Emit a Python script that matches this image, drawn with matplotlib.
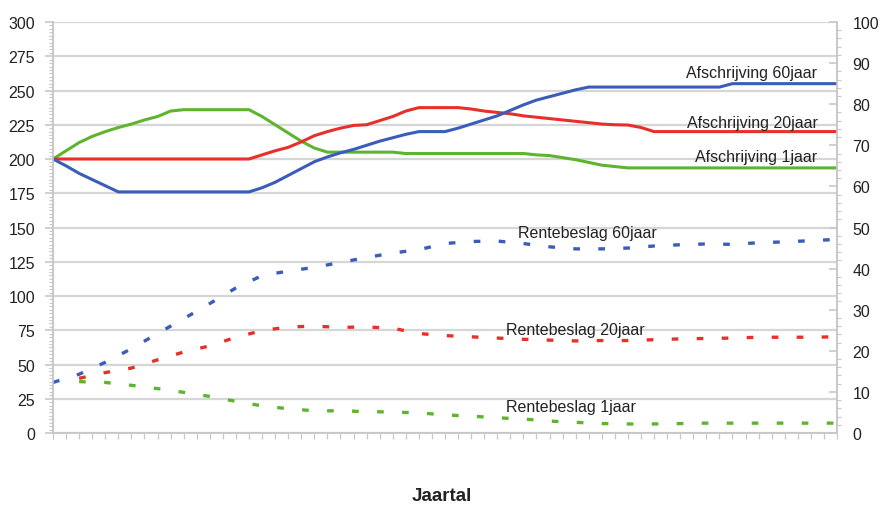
import numpy as np
import matplotlib.pyplot as plt
from matplotlib.ticker import MultipleLocator, NullFormatter

plt.rcParams['font.family'] = ['Liberation Sans', 'DejaVu Sans']

BLAUW = "#3b5cb8"
ROOD = "#e8302a"
GROEN = "#5db52f"
GRIJS = "#c8c8c8"
TEKST = "#222222"

# jaren 0..60, afschrijving (linker as)
jaren = np.arange(0, 61)
afschr_1jaar = [200, 206, 212, 216.5, 220, 223, 225.5, 228.5, 231, 235,
                236, 236, 236, 236, 236, 236, 231, 225, 219, 213,
                208, 205, 205, 205, 205, 205, 205, 204, 204, 204,
                204, 204, 204, 204, 204, 204, 204, 203, 202.5, 201,
                199.5, 197.5, 195.5, 194.5, 193.5, 193.5, 193.5, 193.5, 193.5, 193.5,
                193.5, 193.5, 193.5, 193.5, 193.5, 193.5, 193.5, 193.5, 193.5, 193.5,
                193.5]
afschr_20jaar = [200, 200, 200, 200, 200, 200, 200, 200, 200, 200,
                 200, 200, 200, 200, 200, 200, 203, 206, 208.5, 212.5,
                 217, 220, 222.5, 224.5, 225, 228, 231, 235, 237.5, 237.5,
                 237.5, 237.5, 236.5, 235, 234, 233, 231.5, 230.5, 229.5, 228.5,
                 227.5, 226.5, 225.5, 225, 224.8, 223, 220, 220, 220, 220,
                 220, 220, 220, 220, 220, 220, 220, 220, 220, 220,
                 220]
afschr_60jaar = [200, 195, 189.5, 185, 180.5, 176, 176, 176, 176, 176,
                 176, 176, 176, 176, 176, 176, 179, 183, 188, 193,
                 198, 201.5, 204.5, 207, 210, 213, 215.5, 218, 220, 220,
                 220, 222.5, 225.5, 228.5, 231.5, 235.5, 239.5, 243, 245.5, 248,
                 250.5, 252.5, 252.5, 252.5, 252.5, 252.5, 252.5, 252.5, 252.5, 252.5,
                 252.5, 252.5, 255, 255, 255, 255, 255, 255, 255, 255,
                 255]

# rentebeslag (rechter as), om de 2 jaar
jaren_rente = np.arange(0, 61, 2)
rente_60jaar = [12.3, 14.3, 17.2, 20.5, 24.2, 27.8, 31.5, 35.3, 38.3, 39.4,
                40.3, 41.5, 42.7, 43.8, 44.6, 46.1, 46.6, 46.7, 46.1, 45.3,
                44.8, 44.8, 45.0, 45.5, 45.8, 46.0, 45.9, 46.3, 46.5, 46.8,
                47.1]
jaren_rente_kort = np.arange(2, 61, 2)
rente_20jaar = [13.3, 14.7, 15.8, 17.8, 19.7, 21.2, 23.3, 24.9, 25.8, 26.0,
                25.7, 25.8, 25.5, 24.2, 23.7, 23.4, 23.1, 22.8, 22.6, 22.4,
                22.5, 22.5, 22.7, 22.9, 23.0, 23.1, 23.3, 23.3, 23.3, 23.4]
rente_1jaar = [12.5, 12.3, 11.6, 10.8, 9.9, 8.9, 7.7, 6.6, 5.9, 5.4,
               5.4, 5.2, 5.1, 4.9, 4.4, 4.1, 3.7, 3.4, 2.9, 2.6,
               2.3, 2.2, 2.2, 2.3, 2.4, 2.4, 2.4, 2.4, 2.4, 2.4]

fig = plt.figure(figsize=(8.81, 5.06), dpi=100)
ax = fig.add_axes([53 / 881, 1 - 434 / 506, (837 - 53) / 881, (434 - 23) / 506])
ax2 = ax.twinx()

ax.set_xlim(0, 60)
ax.set_ylim(0, 300)
ax2.set_ylim(0, 100)

ax.grid(True, axis="y", color="#d6d6d6", linewidth=1.6, zorder=0)
ax.set_axisbelow(True)

lw = 2.2
ax.plot(jaren, afschr_1jaar, color=GROEN, linewidth=lw, zorder=3)
ax.plot(jaren, afschr_20jaar, color=ROOD, linewidth=lw, zorder=3)
ax.plot(jaren, afschr_60jaar, color=BLAUW, linewidth=lw, zorder=3)

streep = (0, (2.0, 5.5))
ax2.plot(jaren_rente, rente_60jaar, color=BLAUW, linewidth=2.4, linestyle=streep)
ax2.plot(jaren_rente_kort, rente_20jaar, color=ROOD, linewidth=2.4, linestyle=streep)
ax2.plot(jaren_rente_kort, rente_1jaar, color=GROEN, linewidth=2.4, linestyle=streep)

# assen
for a in (ax, ax2):
    for s in a.spines.values():
        s.set_color(GRIJS)
        s.set_linewidth(1.2)
    a.spines["top"].set_visible(False)

ax.yaxis.set_major_locator(MultipleLocator(25))
ax.yaxis.set_minor_locator(MultipleLocator(2.5))
ax.tick_params(axis="y", which="major", direction="out", length=6, width=1.2,
               color=GRIJS, labelsize=11.5, labelcolor=TEKST, pad=7)
ax.tick_params(axis="y", which="minor", direction="out", length=3, width=0.8, color=GRIJS)

ax.xaxis.set_major_locator(MultipleLocator(1))
ax.xaxis.set_major_formatter(NullFormatter())
ax.tick_params(axis="x", which="major", direction="out", length=4, width=0.9, color=GRIJS)

ax2.yaxis.set_major_locator(MultipleLocator(10))
ax2.yaxis.set_minor_locator(MultipleLocator(2))
ax2.tick_params(axis="y", which="major", direction="in", length=6, width=1.2,
                color=GRIJS, labelsize=11.5, labelcolor=TEKST, pad=11)
ax2.tick_params(axis="y", which="minor", direction="out", length=3, width=0.8, color=GRIJS)

# labels bij de lijnen
lab = dict(fontsize=11.5, color=TEKST, va="center")
ax.text(58.5, 263.5, "Afschrijving 60jaar", ha="right", **lab)
ax.text(58.5, 227, "Afschrijving 20jaar", ha="right", **lab)
ax.text(58.5, 202, "Afschrijving 1jaar", ha="right", **lab)
ax.text(35.6, 146.7, "Rentebeslag 60jaar", ha="left", **lab)
ax.text(34.7, 75.9, "Rentebeslag 20jaar", ha="left", **lab)
ax.text(34.7, 19, "Rentebeslag 1jaar", ha="left", **lab)

fig.text(442 / 881, 1 - 488 / 506, "Jaartal", ha="center", va="top",
         fontsize=13.5, fontweight="bold", color=TEKST)

plt.savefig("out.png", dpi=100)
plt.close()
